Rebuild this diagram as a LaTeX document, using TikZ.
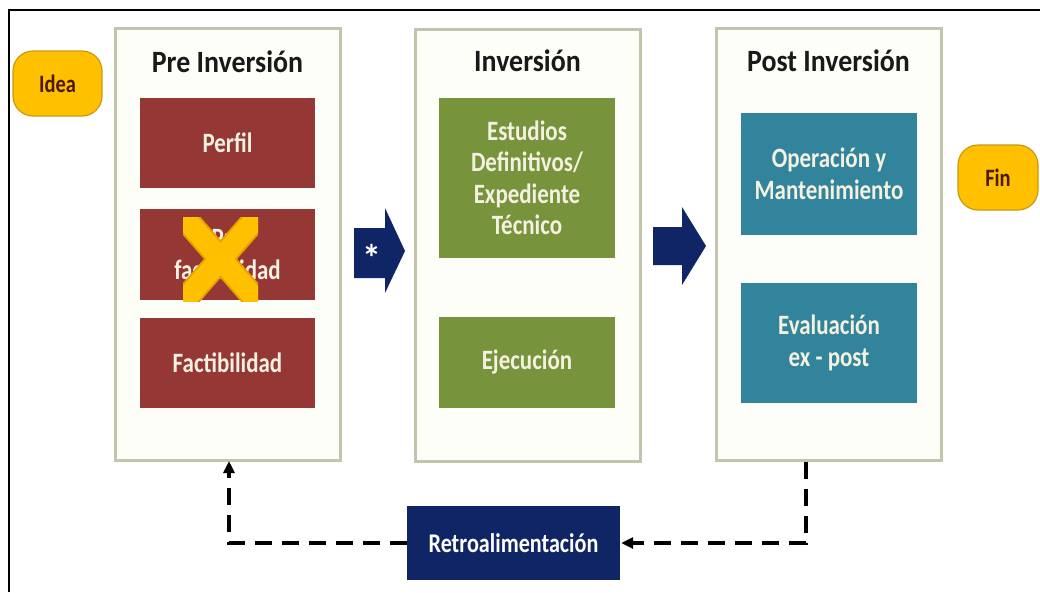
\documentclass[tikz,border=0pt]{standalone}
\usepackage{fontspec}
\setmainfont{Carlito}
\newfontfamily\condfont[FakeStretch=0.82]{Carlito}
\newfontfamily\headfont[FakeStretch=0.9]{Carlito}
\usetikzlibrary{arrows.meta}
\definecolor{redbox}{HTML}{953735}
\definecolor{greenbox}{HTML}{77933C}
\definecolor{tealbox}{HTML}{31849B}
\definecolor{navy}{HTML}{0F2566}
\definecolor{gold}{HTML}{FFC000}
\definecolor{golddark}{HTML}{C99A10}
\definecolor{brownink}{HTML}{4A1A05}
\definecolor{panelline}{HTML}{C3C4AC}
\definecolor{panelfill}{HTML}{FEFEF9}
\definecolor{boxink}{HTML}{F4F1E1}
\definecolor{xedge}{HTML}{E8A200}
\tikzset{
  panel/.style={draw=panelline, line width=3pt, fill=panelfill, minimum width=225pt, minimum height=432pt, inner sep=0pt},
  heading/.style={font=\headfont\bfseries\fontsize{31}{33}\selectfont, text=black!90, anchor=base},
  stagebox/.style={text=boxink, font=\condfont\bfseries\fontsize{28}{31.5}\selectfont, align=center, inner sep=0pt, minimum width=175pt},
  pill/.style={draw=golddark, line width=1.2pt, fill=gold, rounded corners=20pt, text=brownink, font=\condfont\bfseries\fontsize{25}{27}\selectfont, minimum width=89pt, minimum height=65pt, inner sep=0pt},
  feedback/.style={line width=4pt, dash pattern=on 17pt off 10pt, -{Triangle[length=12pt,width=11pt]}},
  bigarrow/.style={fill=navy}
}
\begin{document}
\begin{tikzpicture}[x=1pt,y=-1pt]
\useasboundingbox (0,0) rectangle (1040,592);
\fill[white] (0,0) rectangle (1040,592);
\draw[line width=2.5pt] (9,592) |- (1040,10);

% panels
\node[panel] (pre) at (227.5,244) {};
\node[panel] (inv) at (527.5,245) {};
\node[panel] (post) at (828.5,244) {};

\node[heading] (hpre) at (227.5,72) {Pre Inversión};
\node[heading] (hinv) at (527.5,71) {Inversión};
\node[heading] (hpost) at (828.5,71) {Post Inversión};

% pre-inversion boxes
\node[stagebox, fill=redbox, minimum height=90pt] (perfil) at (227.5,143) {Perfil};
\node[stagebox, fill=redbox, minimum height=91pt] (prefact) at (227.5,254.5) {Pre\\factibilidad};
\node[stagebox, fill=redbox, minimum height=90pt] (fact) at (227.5,363) {Factibilidad};

% cross over pre-factibilidad
\begin{scope}
\clip (183,217) rectangle (258,301);
\draw[xedge, line width=25pt] (176,208) -- (265,310);
\draw[xedge, line width=25pt] (265,208) -- (176,310);
\draw[gold, line width=21pt] (176,208) -- (265,310);
\draw[gold, line width=21pt] (265,208) -- (176,310);
\end{scope}

% inversion boxes
\node[stagebox, fill=greenbox, minimum width=176pt, minimum height=160pt] (estudios) at (527,178) {Estudios\\Definitivos/\\Expediente\\Técnico};
\node[stagebox, fill=greenbox, minimum width=176pt, minimum height=91pt] (ejec) at (527,362.5) {Ejecución};

% post inversion boxes
\node[stagebox, fill=tealbox, minimum width=176pt, minimum height=122pt] (oper) at (829,174) {Operación y\\Mantenimiento};
\node[stagebox, fill=tealbox, minimum width=176pt, minimum height=120pt] (eval) at (829,343) {Evaluación\\ex - post};

% idea / fin
\node[pill] (idea) at (57.5,83.5) {Idea};
\node[pill, minimum width=80pt] (fin) at (998,177.5) {Fin};

% big arrows
\fill[bigarrow] (354,228) -- (385,228) -- (385,208) -- (405,251) -- (385,293) -- (385,278) -- (354,278) -- cycle;
\node[text=white, font=\bfseries\fontsize{38}{38}\selectfont, inner sep=0pt] (star) at (372,258) {*};
\fill[bigarrow] (653,227) -- (682,227) -- (682,207) -- (706,246) -- (682,285) -- (682,265) -- (653,265) -- cycle;

% feedback
\node[fill=navy, text=white, font=\condfont\bfseries\fontsize{27}{29}\selectfont, minimum width=213pt, minimum height=74pt, inner sep=0pt] (retro) at (513.5,543) {Retroalimentación};
\coordinate (preIn) at (229,461);
\coordinate (postOut) at (806,462);
\draw[feedback] (retro.west) -| (preIn);
\draw[feedback] (postOut) |- ([xshift=1pt]retro.east);
\end{tikzpicture}
\end{document}
